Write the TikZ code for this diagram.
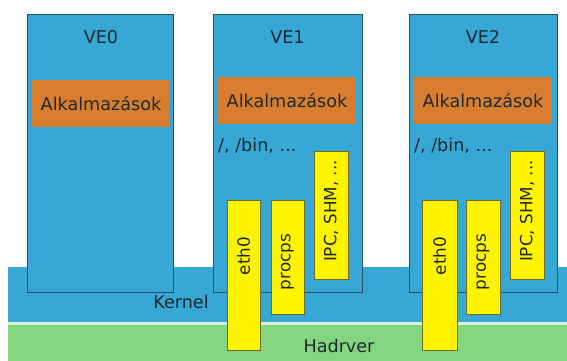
\documentclass[tikz,border=0pt]{standalone}
\usepackage{fontspec}
\setmainfont{DejaVu Sans}
\definecolor{veblue}{HTML}{37A8D5}
\definecolor{veborder}{HTML}{2B4D60}
\definecolor{apporange}{HTML}{D97E2E}
\definecolor{hwgreen}{HTML}{83D580}
\definecolor{ylw}{HTML}{FFF400}
\definecolor{ylwborder}{HTML}{6E6A20}
\definecolor{txt}{HTML}{1E2A30}
\tikzset{
  vebox/.style={fill=veblue, draw=veborder, line width=0.9pt},
  appbox/.style={fill=apporange},
  ybox/.style={fill=ylw, draw=ylwborder, line width=0.9pt},
  lbl/.style={font=\fontsize{17.6}{20}\selectfont, text=txt, inner sep=0pt},
  vlbl/.style={font=\fontsize{16.8}{20}\selectfont, text=txt, inner sep=0pt, rotate=90},
}
\begin{document}
\begin{tikzpicture}[x=1pt,y=-1pt]
\useasboundingbox (0,0) rectangle (567,361);
\fill[white] (0,0) rectangle (567,361);
% bands
\fill[veblue] (8,267) rectangle (567,322);
\fill[hwgreen] (8,325) rectangle (567,361);
\fill[white!70!hwgreen] (8,322) rectangle (567,325);
\node[lbl] (kernel) at (181,302) {Kernel};
\node[lbl] (hw) at (339,346) {Hadrver};
% VE0
\draw[vebox] (27,14) rectangle (173,292);
\node[lbl] (ve0) at (101,37) {VE0};
\fill[appbox] (32,80) rectangle (169,127);
\node[lbl] (app0) at (101,103.5) {Alkalmazások};
% VE1
\draw[vebox] (213,14) rectangle (362,292);
\node[lbl] (ve1) at (287.5,37) {VE1};
\fill[appbox] (218,77) rectangle (356,124);
\node[lbl] (app1) at (287,100.5) {Alkalmazások};
\node[lbl, anchor=west] (fs1) at (218,146) {/, /bin, ...};
\draw[ybox] (227,200) rectangle (260,350);
\node[vlbl] (eth1) at (243.5,256) {eth0};
\draw[ybox] (271,200) rectangle (304,314);
\node[vlbl] (proc1) at (287.5,262) {procps};
\draw[ybox] (314,151) rectangle (348,279);
\node[vlbl] (ipc1) at (331,211) {IPC, SHM, ...};
% VE2
\draw[vebox] (409,14) rectangle (557,292);
\node[lbl] (ve2) at (483,37) {VE2};
\fill[appbox] (414,77) rectangle (552,124);
\node[lbl] (app2) at (483,100.5) {Alkalmazások};
\node[lbl, anchor=west] (fs2) at (414,146) {/, /bin, ...};
\draw[ybox] (422,200) rectangle (457,350);
\node[vlbl] (eth2) at (439.5,256) {eth0};
\draw[ybox] (466,200) rectangle (500,314);
\node[vlbl] (proc2) at (483,262) {procps};
\draw[ybox] (510,151) rectangle (544,279);
\node[vlbl] (ipc2) at (527,211) {IPC, SHM, ...};
\end{tikzpicture}
\end{document}
